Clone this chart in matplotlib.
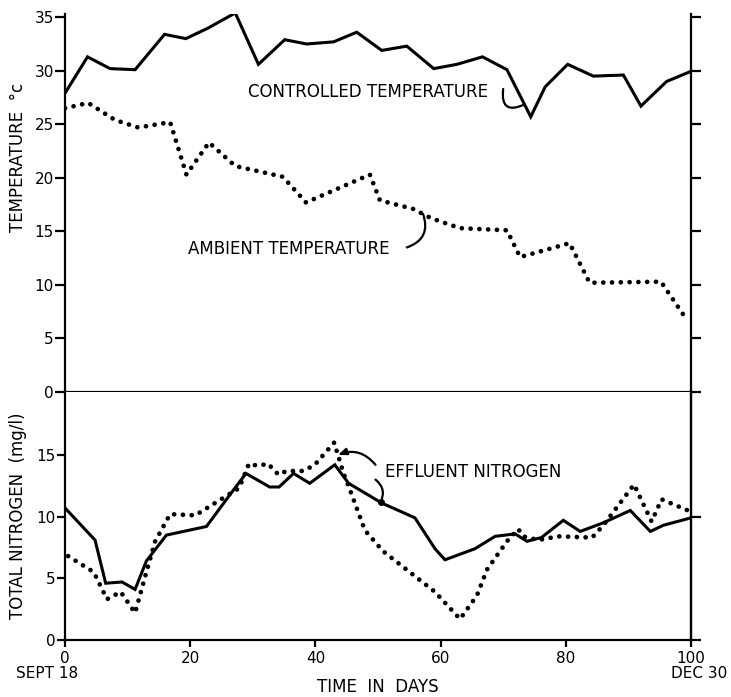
import numpy as np
import matplotlib.pyplot as plt

# Temperature record, days after Sept 18
ctrl_day = [0, 3.6, 7.2, 11.2, 15.9, 19.3, 22.9, 27.2, 30.9, 35.1, 38.6, 42.9,
            46.6, 50.6, 54.6, 58.9, 62.6, 66.7, 70.6, 74.4, 76.7, 80.3, 84.4,
            89.2, 92.0, 96.1, 99.8]
ctrl_temp = [27.9, 31.3, 30.2, 30.1, 33.4, 33.0, 34.0, 35.4, 30.6, 32.9, 32.5,
             32.7, 33.6, 31.9, 32.3, 30.2, 30.6, 31.3, 30.1, 25.7, 28.5, 30.6,
             29.5, 29.6, 26.7, 29.0, 29.9]

amb_day = [0, 3.7, 8.0, 11.7, 16.8, 19.4, 23.0, 27.2, 34.8, 38.5, 48.7, 50.3,
           55.6, 58.6, 63.1, 70.6, 72.7, 80.6, 83.8, 95.2, 98.8]
amb_temp = [26.5, 27.0, 25.4, 24.7, 25.2, 20.3, 23.3, 21.1, 20.1, 17.7, 20.3,
            17.9, 17.1, 16.2, 15.3, 15.1, 12.6, 13.9, 10.2, 10.3, 7.2]

# Total nitrogen (mg/l)
sol_day = [0, 4.8, 6.5, 9.1, 11.2, 13.0, 16.2, 22.6, 25.8, 28.9, 32.7, 34.2,
           36.5, 39.1, 43.1, 45.3, 50.6, 55.9, 59.1, 60.7, 65.5, 68.7, 71.9,
           73.8, 76.1, 79.6, 82.3, 86.0, 90.3, 93.5, 95.6, 100]
sol_n = [10.7, 8.1, 4.6, 4.7, 4.1, 6.4, 8.5, 9.2, 11.4, 13.5, 12.4, 12.4,
         13.5, 12.7, 14.2, 12.7, 11.1, 9.9, 7.4, 6.5, 7.4, 8.4, 8.6,
         8.0, 8.3, 9.7, 8.8, 9.5, 10.5, 8.8, 9.3, 9.9]

dot_day = [0.5, 4.6, 6.7, 8.9, 11.2, 13.0, 14.4, 16.8, 20.8, 24.6, 27.8, 29.4,
           30.9, 32.4, 34.1, 35.4, 38.1, 39.9, 43.0, 44.5, 45.5, 47.9, 50.8,
           59.1, 63.1, 65.8, 67.4, 70.6, 72.4, 73.2, 75.6, 78.8, 84.2, 86.0,
           90.9, 93.7, 95.3, 99.5]
dot_n = [6.8, 5.5, 3.3, 3.9, 2.2, 5.5, 8.0, 10.2, 10.1, 11.3, 12.3, 14.3,
         14.1, 14.3, 13.4, 13.7, 13.7, 14.2, 16.0, 13.5, 12.2, 8.9, 7.2,
         3.9, 1.7, 3.6, 5.7, 8.0, 9.0, 8.4, 8.1, 8.4, 8.3, 9.3,
         12.6, 9.6, 11.4, 10.5]

day_ticks = [0, 20, 40, 60, 80, 100]
temp_ticks = [0, 5, 10, 15, 20, 25, 30, 35]
n_ticks = [0, 5, 10, 15]

FS = 12
TS = 11
solid = dict(color='k', lw=2.2, solid_joinstyle='miter')
dotted = dict(color='k', lw=3.4, linestyle=(0, (0.01, 1.85)),
              dash_capstyle='round')
hand = dict(arrowstyle='-', lw=1.6, color='k', shrinkA=0, shrinkB=0)

fig = plt.figure(figsize=(7.31, 6.97), dpi=100)
ax1 = fig.add_axes([0.0889, 0.4376, 0.8564, 0.5423])
ax2 = fig.add_axes([0.0889, 0.0818, 0.8564, 0.3558])

for ax in (ax1, ax2):
    ax.set_xlim(0, 100)
    ax.spines['top'].set_visible(False)
    for s in ('left', 'right', 'bottom'):
        ax.spines[s].set_linewidth(1.6)
    ax.tick_params(width=1.6, length=6, labelsize=TS, pad=1)

# --- temperature panel ---
ax1.plot(ctrl_day, ctrl_temp, **solid)
ax1.plot(amb_day, amb_temp, **dotted)
ax1.set_ylim(0, 35.3)
ax1.set_yticks(temp_ticks)
ax1.tick_params(axis='y', right=True, labelright=False, length=7)
ax1.tick_params(axis='x', bottom=False, labelbottom=False)

# labels with short hand-drawn leaders
ax1.text(29.2, 28.0, 'CONTROLLED TEMPERATURE', fontsize=FS, ha='left', va='center')
c_x = 73.4
ax1.annotate('', xy=(c_x, np.interp(c_x, ctrl_day, ctrl_temp)), xytext=(70.0, 28.3),
             arrowprops=dict(connectionstyle='arc3,rad=0.9', **hand))

ax1.text(19.6, 13.4, 'AMBIENT TEMPERATURE', fontsize=FS, ha='left', va='center')
a_x = 57.2
ax1.annotate('', xy=(a_x, np.interp(a_x, amb_day, amb_temp)), xytext=(54.6, 13.5),
             arrowprops=dict(connectionstyle='arc3,rad=0.5', **hand))

ax1.text(-0.075, 0.62, 'TEMPERATURE  \u00b0c', transform=ax1.transAxes,
         rotation=90, ha='center', va='center', fontsize=FS)

# --- nitrogen panel ---
ax2.plot(sol_day, sol_n, **solid)
ax2.plot(dot_day, dot_n, **dotted)
ax2.set_ylim(0, 20.1)
ax2.set_yticks(n_ticks)
ax2.set_xticks(day_ticks)
ax2.tick_params(axis='x', pad=3, length=5)
sec = ax2.secondary_yaxis('right')
sec.set_yticks([0, 10])
sec.tick_params(labelright=False, width=1.6, length=7)
sec.spines['right'].set_linewidth(1.6)

ax2.text(51.1, 13.6, 'EFFLUENT NITROGEN', fontsize=FS, ha='left', va='center')
e1 = 43.6
ax2.annotate('', xy=(e1, np.interp(e1, dot_day, dot_n)), xytext=(49.6, 14.2),
             arrowprops=dict(arrowstyle='-|>,head_length=0.5,head_width=0.2',
                             connectionstyle='arc3,rad=0.35', lw=1.6, color='k',
                             shrinkA=0, shrinkB=0))
e2 = 50.4
e2_y = np.interp(e2, sol_day, sol_n)
ax2.annotate('', xy=(e2, e2_y), xytext=(49.6, 13.0),
             arrowprops=dict(connectionstyle='arc3,rad=-0.4', **hand))
ax2.plot([e2], [e2_y], 'o', color='k', ms=4)

ax2.text(-0.075, 0.5, 'TOTAL NITROGEN  (mg/l)', transform=ax2.transAxes,
         rotation=90, ha='center', va='center', fontsize=FS)
ax2.text(-0.028, -0.135, 'SEPT 18', transform=ax2.transAxes, ha='center',
         va='center', fontsize=TS)
ax2.text(1.013, -0.135, 'DEC 30', transform=ax2.transAxes, ha='center',
         va='center', fontsize=TS)
ax2.text(0.5, -0.19, 'TIME  IN  DAYS', transform=ax2.transAxes, ha='center',
         va='center', fontsize=FS)

fig.savefig('out.png', dpi=100)
